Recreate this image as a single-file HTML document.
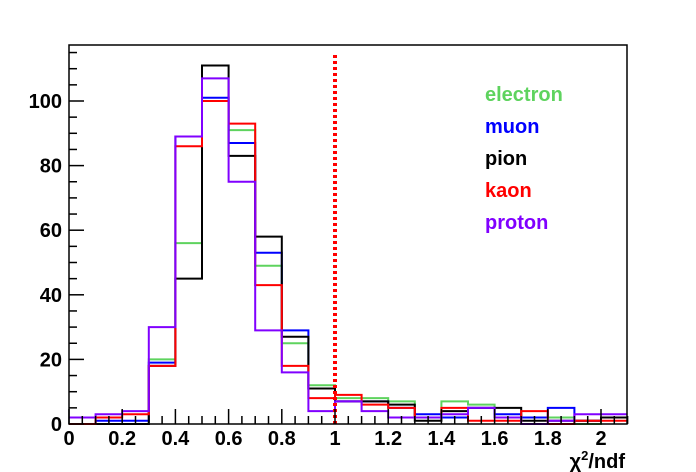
<!DOCTYPE html>
<html><head><meta charset="utf-8"><style>
html,body{margin:0;padding:0;background:#fff;}
svg{display:block;font-family:"Liberation Sans",sans-serif;font-weight:bold;}
</style></head><body>
<svg id="s" width="696" height="472" xmlns="http://www.w3.org/2000/svg"></svg>
<script>
const s=document.getElementById('s');
const X0=69,X1=627,Y0=424,Y1=45,sx=266,sy=3.23;
const px=v=>X0+v*sx, py=v=>Y0-v*sy;
let h='<rect x="0" y="0" width="696" height="472" fill="#fff"/>';
const data={
 '#5ed35e':[0,0,0,20,56,100,91,49,25,12,8,8,7,2,7,6,2,2,2,0,2],
 '#0000ff':[0,1,1,19,89,101,87,53,29,11,7,7,5,3,2,5,3,2,5,1,2],
 '#000000':[0,0,0,18,45,111,83,58,27,11,7,7,6,1,4,5,5,1,1,1,2],
 '#ff0000':[0,2,3,18,86,100,93,43,18,8,9,6,5,2,5,1,1,4,0,1,1],
 '#8000ff':[2,3,4,30,89,107,75,29,16,4,7,4,2,2,3,5,2,0,1,3,3]
};
for(const c in data){
 const d=data[c];let p='M'+px(0)+','+py(d[0]);
 for(let i=0;i<d.length;i++){p+=' L'+px(i*0.1)+','+py(d[i])+' L'+px((i+1)*0.1)+','+py(d[i]);}
 p+=' L'+X1+','+py(d[d.length-1]);
 h+='<path d="'+p+'" fill="none" stroke="'+c+'" stroke-width="2"/>';
}
h+='<line x1="335" y1="55" x2="335" y2="424" stroke="#ff0000" stroke-width="4" stroke-dasharray="3,3"/>';
h+='<rect x="'+X0+'" y="'+Y1+'" width="'+(X1-X0)+'" height="'+(Y0-Y1)+'" fill="none" stroke="#000" stroke-width="1.5"/>';
for(let v=0;v<=115;v+=5){const y=py(v);const L=(v%20==0)?15:8;h+='<line x1="'+X0+'" y1="'+y+'" x2="'+(X0+L)+'" y2="'+y+'" stroke="#000" stroke-width="1.5"/>';
 if(v%20==0)h+='<text x="62" y="'+(y+7)+'" font-size="20" text-anchor="end">'+v+'</text>';}
for(let i=0;i<=42;i++){const v=i*0.05;const x=px(v);const L=(i%4==0)?15:8;h+='<line x1="'+x+'" y1="'+Y0+'" x2="'+x+'" y2="'+(Y0-L)+'" stroke="#000" stroke-width="1.5"/>';
 if(i%4==0){h+='<text x="'+x+'" y="445" font-size="20" text-anchor="middle">'+(Math.round(v*10)/10)+'</text>';}}
h+='<text x="625" y="468" font-size="20" text-anchor="end">χ<tspan font-size="13" dy="-8">2</tspan><tspan dy="8">/ndf</tspan></text>';
const leg=[['electron','#5ed35e'],['muon','#0000ff'],['pion','#000000'],['kaon','#ff0000'],['proton','#8000ff']];
leg.forEach((l,i)=>{h+='<text x="485" y="'+(101+i*32)+'" font-size="20" fill="'+l[1]+'">'+l[0]+'</text>';});
s.innerHTML=h;
</script>
</body></html>
